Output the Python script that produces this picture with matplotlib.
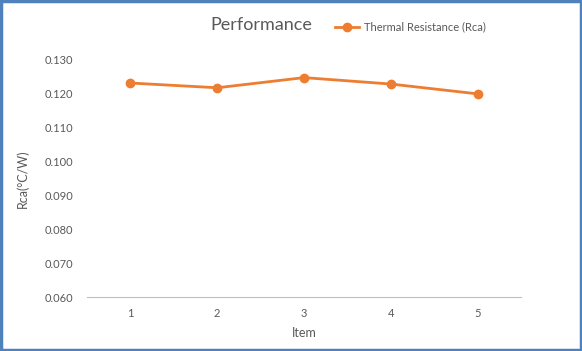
import matplotlib
matplotlib.use("Agg")
import matplotlib.pyplot as plt
from matplotlib.patches import Rectangle

items = [1, 2, 3, 4, 5]
rca = [0.1232, 0.1218, 0.1248, 0.1229, 0.1200]
yticks = [0.060, 0.070, 0.080, 0.090, 0.100, 0.110, 0.120, 0.130]

plt.rcParams["font.family"] = ["Lato", "DejaVu Sans"]

fig = plt.figure(figsize=(5.82, 3.51), dpi=100)
ax = fig.add_axes([87 / 582, 1 - 297 / 351, 434 / 582, 237 / 351])

ax.plot(items, rca, color="#ED7D31", linewidth=2.0, marker="o", markersize=6,
        label="Thermal Resistance (Rca)")

ax.set_xlim(0.5, 5.5)
ax.set_ylim(0.060, 0.130)
ax.set_xticks(items)
ax.set_yticks(yticks)
ax.set_yticklabels([f"{v:.3f}" for v in yticks])
ax.tick_params(axis="both", length=0, colors="#595959", labelsize=8)
ax.tick_params(axis="x", pad=8)
ax.tick_params(axis="y", pad=10)

for side in ["top", "right", "left"]:
    ax.spines[side].set_visible(False)
ax.spines["bottom"].set_color("#BFBFBF")
ax.spines["bottom"].set_linewidth(0.8)

ax.set_xlabel("Item", color="#595959", fontsize=9, labelpad=6)
ax.set_ylabel("Rca(°C/W)", color="#595959", fontsize=9, labelpad=11)

fig.text(261 / 582, 1 - 25 / 351, "Performance", ha="center", va="center",
         fontsize=13, color="#595959")
fig.legend(loc="center left", bbox_to_anchor=(335 / 582, 1 - 27 / 351),
           frameon=False, fontsize=8, labelcolor="#595959",
           handlelength=2.2, handletextpad=0.4, borderaxespad=0, borderpad=0)

fig.patches.append(Rectangle((0.002, 0.003), 0.996, 0.994, transform=fig.transFigure,
                             fill=False, edgecolor="#4F81BD", linewidth=2.5))

fig.savefig("out.png", dpi=100)
